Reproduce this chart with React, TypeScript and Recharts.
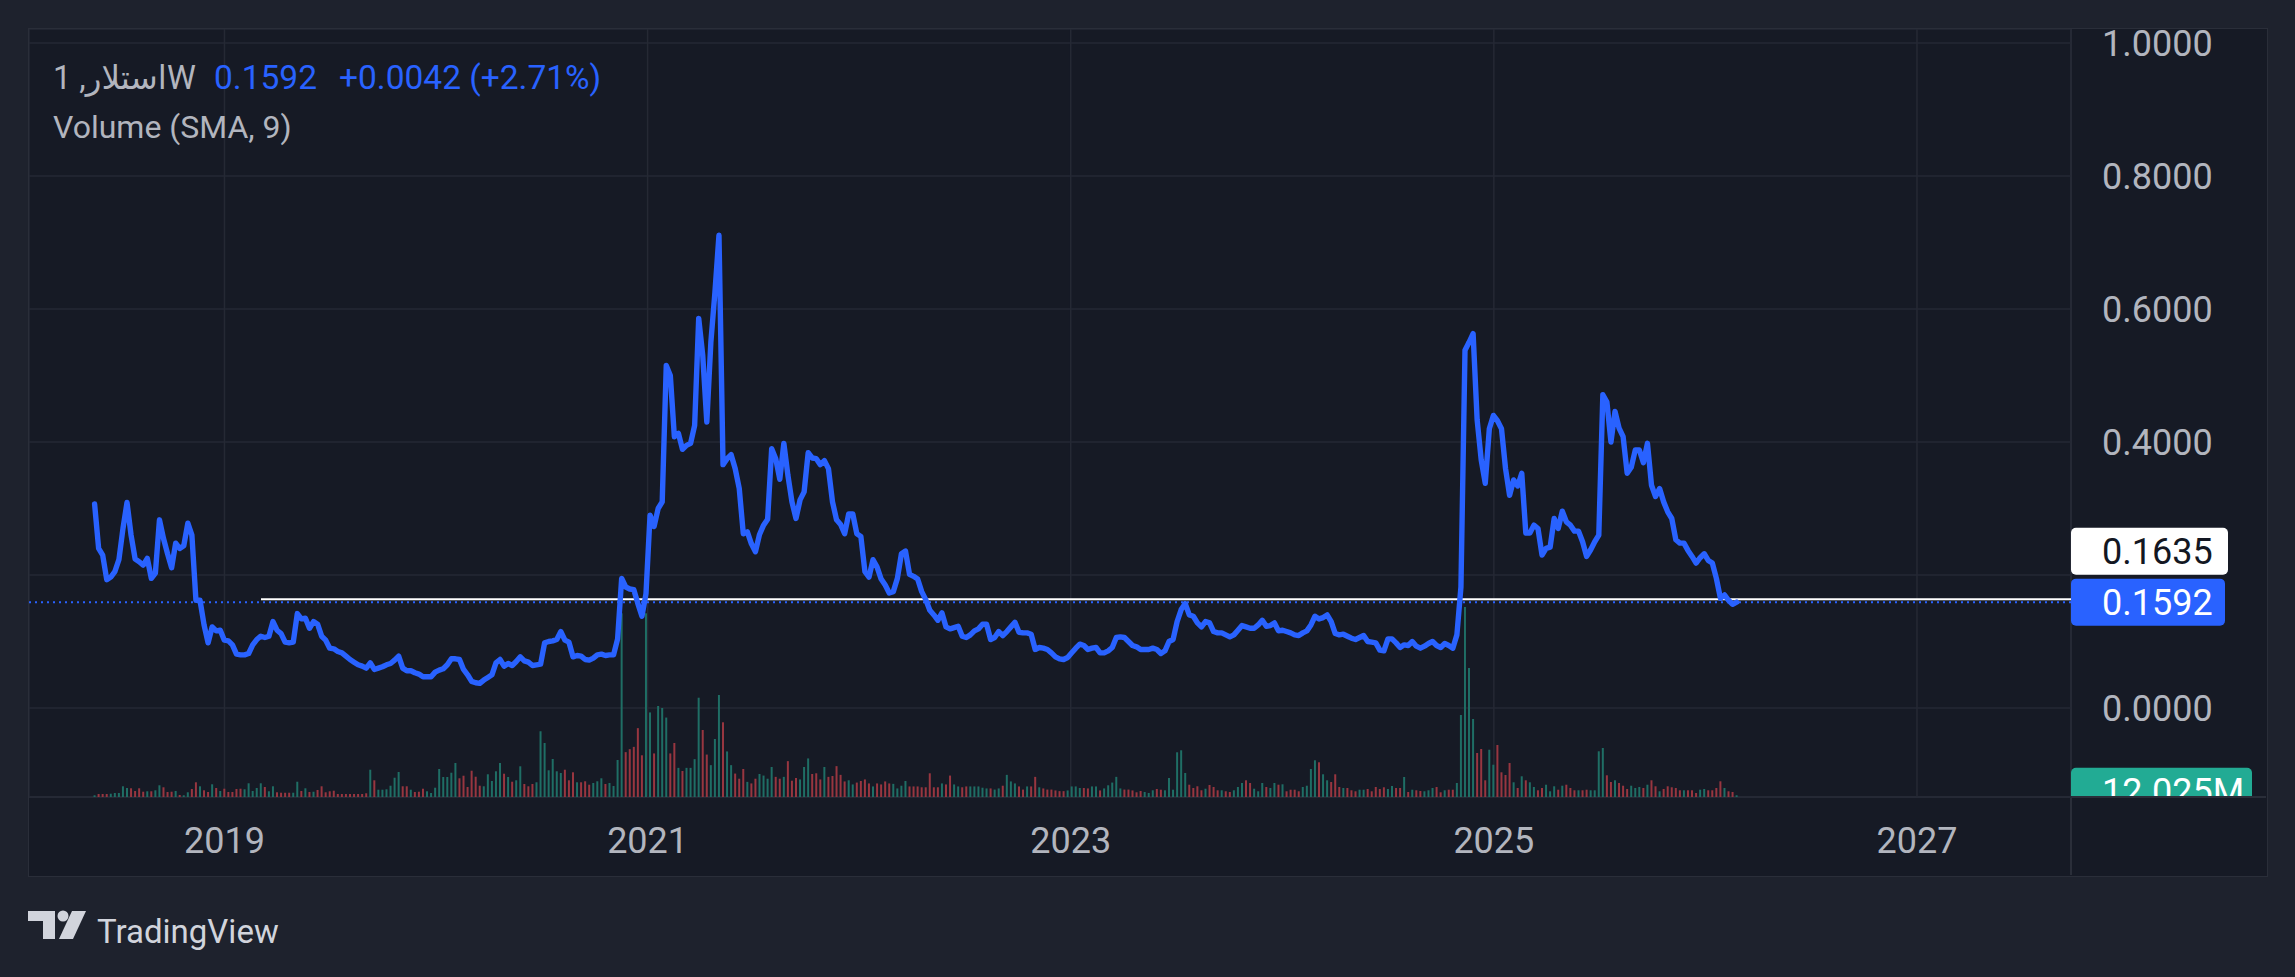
import React from 'react';
import { ComposedChart, Line, Bar, Cell, XAxis, YAxis, CartesianGrid, ReferenceLine } from 'recharts';

// Weekly closes (XLM, 1W), first bar ~June 2018, last bar = 0.1592
const PRICES: number[] = [
  0.307, 0.24, 0.23, 0.193, 0.197, 0.205, 0.223, 0.27, 0.309, 0.26,
  0.224, 0.22, 0.215, 0.225, 0.195, 0.203, 0.283, 0.255, 0.232, 0.211,
  0.248, 0.24, 0.244, 0.278, 0.26, 0.162, 0.162, 0.125, 0.098, 0.122,
  0.116, 0.117, 0.102, 0.101, 0.095, 0.081, 0.08, 0.08, 0.082, 0.095,
  0.103, 0.108, 0.106, 0.108, 0.13, 0.117, 0.112, 0.099, 0.098, 0.099,
  0.142, 0.134, 0.135, 0.12, 0.13, 0.126, 0.108, 0.102, 0.09, 0.089,
  0.085, 0.083, 0.078, 0.073, 0.069, 0.065, 0.063, 0.06, 0.068, 0.058,
  0.06, 0.062, 0.065, 0.067, 0.072, 0.078, 0.06, 0.056, 0.056, 0.053,
  0.051, 0.047, 0.047, 0.047, 0.054, 0.057, 0.059, 0.065, 0.074, 0.074,
  0.073, 0.058, 0.05, 0.04, 0.038, 0.037, 0.042, 0.046, 0.05, 0.068,
  0.073, 0.063, 0.067, 0.064, 0.07, 0.077, 0.071, 0.069, 0.064, 0.065,
  0.066, 0.098, 0.1, 0.101, 0.103, 0.115, 0.102, 0.099, 0.077, 0.079,
  0.078, 0.073, 0.072, 0.075, 0.08, 0.081, 0.079, 0.08, 0.08, 0.104,
  0.195, 0.182, 0.179, 0.178, 0.157, 0.138, 0.172, 0.29, 0.273, 0.3,
  0.31, 0.515, 0.5, 0.408, 0.413, 0.389, 0.395, 0.398, 0.425, 0.586,
  0.53, 0.43, 0.55, 0.625, 0.711, 0.366, 0.375, 0.381, 0.36, 0.33,
  0.262, 0.265, 0.247, 0.235, 0.261, 0.275, 0.284, 0.39, 0.375, 0.344,
  0.398, 0.35, 0.31, 0.285, 0.313, 0.325, 0.384, 0.376, 0.375, 0.366,
  0.372, 0.36, 0.31, 0.283, 0.276, 0.262, 0.292, 0.292, 0.262, 0.258,
  0.205, 0.197, 0.223, 0.212, 0.194, 0.185, 0.173, 0.175, 0.195, 0.232,
  0.236, 0.201, 0.198, 0.194, 0.175, 0.163, 0.147, 0.14, 0.132, 0.143,
  0.122, 0.119, 0.121, 0.123, 0.108, 0.106, 0.11, 0.116, 0.119, 0.126,
  0.126, 0.103, 0.106, 0.115, 0.109, 0.115, 0.122, 0.129, 0.114, 0.113,
  0.113, 0.111, 0.088, 0.091, 0.09, 0.088, 0.083, 0.077, 0.074, 0.073,
  0.076, 0.083, 0.09, 0.096, 0.094, 0.088, 0.09, 0.091, 0.083, 0.083,
  0.086, 0.091, 0.106, 0.107, 0.106, 0.1, 0.094, 0.092, 0.088, 0.088,
  0.088, 0.09, 0.088, 0.082, 0.086, 0.1, 0.103, 0.13, 0.148, 0.157,
  0.14, 0.138, 0.128, 0.122, 0.13, 0.128, 0.115, 0.113, 0.113, 0.11,
  0.107, 0.11, 0.117, 0.124, 0.122, 0.12, 0.12, 0.125, 0.132, 0.123,
  0.124, 0.128, 0.116, 0.117, 0.115, 0.113, 0.11, 0.109, 0.113, 0.116,
  0.125, 0.138, 0.134, 0.136, 0.14, 0.13, 0.112, 0.11, 0.111, 0.108,
  0.105, 0.103, 0.106, 0.109, 0.1, 0.099, 0.098, 0.087, 0.086, 0.104,
  0.104, 0.098, 0.091, 0.095, 0.094, 0.1, 0.093, 0.09, 0.093, 0.097,
  0.1, 0.094, 0.091, 0.097, 0.094, 0.09, 0.11, 0.182, 0.538, 0.55,
  0.563, 0.433, 0.373, 0.338, 0.42, 0.44, 0.432, 0.42, 0.36, 0.32,
  0.343, 0.334, 0.353, 0.263, 0.263, 0.275, 0.27, 0.23, 0.24, 0.242,
  0.285, 0.27, 0.296, 0.28, 0.275, 0.266, 0.266, 0.25, 0.228, 0.238,
  0.25, 0.26, 0.471, 0.46, 0.4, 0.446, 0.421, 0.408, 0.353, 0.362,
  0.388, 0.388, 0.369, 0.398, 0.335, 0.318, 0.33, 0.31, 0.295, 0.285,
  0.253, 0.248, 0.248, 0.237, 0.228, 0.218, 0.226, 0.232, 0.222, 0.218,
  0.195, 0.165, 0.17, 0.162, 0.156, 0.1592,
];

// Weekly volume, millions
const VOLUMES_M: number[] = [
  12, 21, 21, 21, 23, 28, 28, 75, 63, 61,
  42, 61, 37, 40, 40, 47, 82, 68, 35, 37,
  42, 14, 12, 33, 56, 103, 75, 47, 35, 89,
  63, 42, 58, 35, 35, 56, 58, 54, 96, 42,
  63, 96, 70, 40, 75, 33, 30, 30, 30, 30,
  107, 42, 61, 35, 37, 49, 75, 33, 40, 44,
  21, 21, 21, 21, 21, 21, 21, 26, 191, 117,
  51, 51, 54, 79, 135, 175, 75, 75, 51, 35,
  37, 58, 40, 28, 65, 196, 140, 140, 170, 238,
  131, 149, 70, 184, 142, 79, 75, 159, 112, 180,
  238, 163, 140, 107, 117, 215, 91, 75, 91, 103,
  460, 378, 187, 266, 180, 168, 191, 117, 173, 103,
  103, 110, 86, 98, 110, 131, 91, 98, 77, 259,
  1286, 314, 335, 351, 482, 292, 1286, 592, 305, 637,
  623, 556, 305, 378, 204, 182, 204, 204, 265, 695,
  469, 297, 223, 406, 714, 523, 319, 223, 164, 128,
  196, 106, 95, 128, 161, 150, 128, 210, 141, 128,
  141, 251, 114, 133, 123, 210, 270, 161, 166, 123,
  210, 141, 147, 216, 155, 109, 117, 88, 101, 112,
  123, 95, 74, 95, 88, 109, 95, 92, 60, 79,
  112, 74, 74, 74, 68, 68, 166, 68, 68, 95,
  88, 150, 88, 74, 68, 74, 74, 74, 74, 65,
  60, 60, 52, 60, 79, 155, 109, 95, 74, 52,
  74, 74, 141, 68, 60, 52, 52, 46, 41, 41,
  46, 74, 74, 63, 63, 60, 74, 74, 46, 60,
  82, 101, 141, 60, 52, 52, 46, 33, 42, 35,
  28, 47, 56, 51, 47, 133, 51, 313, 327, 168,
  86, 63, 75, 47, 58, 84, 70, 47, 47, 40,
  35, 47, 70, 98, 117, 98, 58, 40, 98, 70,
  63, 98, 86, 89, 40, 51, 51, 40, 70, 79,
  196, 257, 243, 159, 117, 105, 159, 70, 63, 63,
  47, 40, 51, 51, 56, 40, 70, 56, 68, 56,
  77, 63, 63, 140, 35, 51, 47, 42, 40, 47,
  63, 70, 33, 47, 51, 51, 98, 574, 1330, 903,
  546, 308, 336, 117, 331, 226, 364, 173, 154, 238,
  103, 63, 145, 117, 103, 70, 47, 63, 86, 40,
  75, 51, 79, 86, 63, 47, 47, 47, 51, 47,
  47, 320, 343, 152, 105, 117, 98, 79, 56, 79,
  63, 70, 63, 86, 117, 75, 40, 56, 75, 68,
  63, 47, 47, 47, 47, 28, 51, 56, 47, 47,
  63, 110, 63, 40, 35, 12.025,
];

const YEAR_TICKS = [2019, 2021, 2023, 2025, 2027];
const PRICE_TICKS = [0, 0.2, 0.4, 0.6, 0.8, 1.0];
const FIRST_WEEK = 2018.386; // decimal year of first weekly bar
const WEEKS_PER_YEAR = 52.18;
const X_DOMAIN: [number, number] = [2018.076, 2027.728];
const PRICE_DOMAIN: [number, number] = [-0.1338, 1.0211];
const VOL_DOMAIN: [number, number] = [0, 5376];
const LAST_CLOSE = 0.1592;
const RAY_PRICE = 0.1635;
const RAY_START = 2019.1725;
const LAST_VOLUME = 12.025;
const LAST_VOLUME_LABEL = '12.025M';
const TITLE_SYMBOL = 'استلار, 1W';
const TITLE_PRICE = '0.1592';
const TITLE_CHANGE = '+0.0042 (+2.71%)';
const TITLE_VOLUME = 'Volume (SMA, 9)';

const BLUE = '#2962ff';
const GREEN = '#1f6e65';
const RED = '#983640';
const TEXT = '#b2b5be';
const GRID = '#252934';
const BORDER = '#2a2e39';
const PANEL = '#161a25';
const OUTER = '#1e222d';
const FONT = 'Roboto, "Noto Sans", "DejaVu Sans", sans-serif';

const data = PRICES.map((p, i) => ({
  t: FIRST_WEEK + i / WEEKS_PER_YEAR,
  p,
  v: VOLUMES_M[i],
  up: i === 0 || p >= PRICES[i - 1],
}));

const CHART_W = 2237;
const CHART_H = 846;
const AXIS_W = 195;
const XAXIS_H = 78;
const PANE_H = CHART_H - XAXIS_H;

const TimeTick = (props: any) => {
  const { x, payload } = props;
  return (
    <text x={x} y={PANE_H + 56} textAnchor="middle" fill={TEXT} fontSize={36} fontFamily={FONT}>
      {payload.value}
    </text>
  );
};

const PriceTick = (props: any) => {
  const { y, payload } = props;
  if (Math.abs(payload.value - 0.2) < 1e-9) return <g />;
  return (
    <text x={CHART_W - AXIS_W + 31} y={y} dy="0.36em" textAnchor="start" fill={TEXT} fontSize={36} fontFamily={FONT}>
      {Number(payload.value).toFixed(4)}
    </text>
  );
};

const makeBoxLabel = (text: string, fill: string, color: string, width: number, shift: number, clip: boolean) =>
  (props: any) => {
    const vb = props.viewBox || {};
    const right = (vb.x || 0) + (vb.width || 0);
    const cy = (vb.y || 0) + shift;
    const h = 47;
    return (
      <g clipPath={clip ? 'url(#paneClip)' : undefined}>
        <rect x={right} y={cy - h / 2} width={width} height={h} rx={5} fill={fill} />
        <text x={right + 31} y={cy} dy="0.36em" fill={color} fontSize={36} fontFamily={FONT}>
          {text}
        </text>
      </g>
    );
  };

export default function App() {
  return (
    <div style={{ position: 'absolute', left: 0, top: 0, width: 2295, height: 977, background: OUTER, overflow: 'hidden' }}>
      <div style={{ position: 'absolute', left: 28, top: 28, width: 2240, height: 849, background: PANEL, border: `1.5px solid ${BORDER}`, boxSizing: 'border-box' }} />
      <div style={{ position: 'absolute', left: 29, top: 796, width: 2237, height: 2, background: BORDER }} />
      <div style={{ position: 'absolute', left: 2070, top: 29, width: 2, height: 846, background: BORDER }} />
      <div style={{ position: 'absolute', left: 29, top: 29, width: CHART_W, height: CHART_H }}>
        <ComposedChart width={CHART_W} height={CHART_H} data={data} margin={{ top: 0, right: 0, bottom: 0, left: 0 }}>
          <defs>
            <clipPath id="paneClip">
              <rect x={0} y={0} width={CHART_W} height={PANE_H - 1} />
            </clipPath>
          </defs>
          <CartesianGrid xAxisId="time" yAxisId="price" stroke={GRID} strokeWidth={1.5} />
          <XAxis
            xAxisId="time"
            dataKey="t"
            type="number"
            domain={X_DOMAIN}
            ticks={YEAR_TICKS}
            allowDataOverflow
            height={XAXIS_H}
            axisLine={false}
            tickLine={false}
            tick={TimeTick}
          />
          <YAxis
            yAxisId="price"
            orientation="right"
            width={AXIS_W}
            domain={PRICE_DOMAIN}
            ticks={PRICE_TICKS}
            allowDataOverflow
            axisLine={false}
            tickLine={false}
            tick={PriceTick}
          />
          <YAxis yAxisId="vol" hide domain={VOL_DOMAIN} allowDataOverflow />
          <Bar xAxisId="time" yAxisId="vol" dataKey="v" barSize={2} isAnimationActive={false}>
            {data.map((d, i) => (
              <Cell key={i} fill={d.up ? GREEN : RED} />
            ))}
          </Bar>
          <ReferenceLine
            xAxisId="time"
            yAxisId="price"
            y={LAST_CLOSE}
            stroke={BLUE}
            strokeWidth={2}
            strokeDasharray="2 4"
          />
          <ReferenceLine
            xAxisId="time"
            yAxisId="price"
            segment={[{ x: RAY_START, y: RAY_PRICE }, { x: X_DOMAIN[1], y: RAY_PRICE }]}
            stroke="#ffffff"
            strokeWidth={2}
          />
          <Line
            xAxisId="time"
            yAxisId="price"
            dataKey="p"
            type="linear"
            stroke={BLUE}
            strokeWidth={5.4}
            strokeLinejoin="round"
            strokeLinecap="round"
            dot={false}
            activeDot={false}
            isAnimationActive={false}
          />
          <ReferenceLine
            xAxisId="time"
            yAxisId="price"
            segment={[{ x: X_DOMAIN[0], y: RAY_PRICE }, { x: X_DOMAIN[1], y: RAY_PRICE }]}
            stroke="none"
            label={makeBoxLabel(RAY_PRICE.toFixed(4), '#ffffff', '#131722', 157, -48, false)}
          />
          <ReferenceLine
            xAxisId="time"
            yAxisId="price"
            y={LAST_CLOSE}
            stroke="none"
            label={makeBoxLabel(LAST_CLOSE.toFixed(4), BLUE, '#ffffff', 154, 0, false)}
          />
          <ReferenceLine
            xAxisId="time"
            yAxisId="vol"
            y={LAST_VOLUME}
            stroke="none"
            label={makeBoxLabel(LAST_VOLUME_LABEL, '#22ab94', '#ffffff', 181, -4, true)}
          />
        </ComposedChart>
      </div>
      <svg width={2295} height={977} style={{ position: 'absolute', left: 0, top: 0, pointerEvents: 'none' }}>
        <text x={53} y={89} fill={TEXT} fontSize={32.5} fontFamily={FONT}>{TITLE_SYMBOL}</text>
        <text x={214} y={89} fill={BLUE} fontSize={33.5} fontFamily={FONT}>{TITLE_PRICE}</text>
        <text x={339} y={89} fill={BLUE} fontSize={33.5} fontFamily={FONT}>{TITLE_CHANGE}</text>
        <text x={53} y={138} fill={TEXT} fontSize={32} fontFamily={FONT}>{TITLE_VOLUME}</text>
        <g fill="#d1d4dc">
          <path d="M28 911 H55 V939 H43 V921 H28 Z" />
          <circle cx={63} cy={916} r={5.5} />
          <path d="M72 911 H86 L73 939 H59 Z" />
        </g>
        <text x={97} y={943} fill="#d1d4dc" fontSize={33} fontFamily={FONT}>TradingView</text>
      </svg>
    </div>
  );
}
